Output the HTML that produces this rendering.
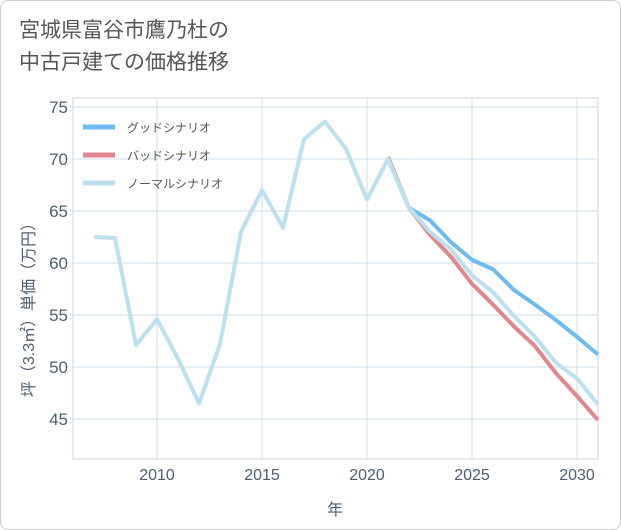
<!DOCTYPE html>
<html><head><meta charset="utf-8"><style>
body{margin:0;background:#fff;}
#wrap{position:relative;width:619px;height:528px;border:1px solid #ccc;border-radius:8px;background:#fff;overflow:hidden;font-family:"Liberation Sans","Noto Sans CJK JP",sans-serif;}
#title{position:absolute;left:18px;top:14px;font-size:21px;line-height:32px;color:#555;}
svg{position:absolute;left:0;top:0;}
</style></head><body>
<div id="wrap">
<div id="title">宮城県富谷市鷹乃杜の<br>中古戸建ての価格推移</div>
<svg id="chart" width="621" height="530"></svg>
</div>
<script>
const years=[2007,2008,2009,2010,2011,2012,2013,2014,2015,2016,2017,2018,2019,2020,2021,2022,2023,2024,2025,2026,2027,2028,2029,2030,2031];
const normalVals=[62.5,62.4,52.1,54.6,50.8,46.5,52.2,63,67,63.4,71.9,73.6,71,66.1,70,65.3,63,61.3,58.8,57.2,54.9,52.9,50.4,48.9,46.4];
const predYears=[2021,2022,2023,2024,2025,2026,2027,2028,2029,2030,2031];
const goodVals=[70,65.3,64.1,62,60.3,59.4,57.4,56,54.5,52.9,51.2];
const badVals=[70.2,65.3,62.7,60.6,58,56,53.9,52,49.4,47.2,44.9];
const xTicks=[2010,2015,2020,2025,2030];
const yTicks=[45,50,55,60,65,70,75];
const legendLabels=["グッドシナリオ","バッドシナリオ","ノーマルシナリオ"];
const legendColors=["#6cbcf0","#e0868f","#bde0ee"];

const NS="http://www.w3.org/2000/svg";
const svg=document.getElementById('chart');
const L=72,R=597,T=97,B=458;
const xs=y=>L+(y-2006)*21;
const ys=v=>106+(75-v)*10.4;
function mk(tag,attrs){const e=document.createElementNS(NS,tag);for(const k in attrs)e.setAttribute(k,attrs[k]);svg.appendChild(e);return e;}
let bg=mk('rect',{x:L,y:T,width:R-L,height:B-T,fill:'#fff'});


xTicks.forEach(t=>{
 let g=mk('line',{x1:xs(t),x2:xs(t),y1:T,y2:B,stroke:'#cfdce8','stroke-width':1});
 
 
 let tx=mk('text',{x:xs(t),y:479,'text-anchor':'middle','font-size':16,fill:'#4d5d6e'});
 tx.textContent=t;
 
 
});
yTicks.forEach(t=>{
 let g=mk('line',{x1:L,x2:R,y1:ys(t),y2:ys(t),stroke:'#cfdce8','stroke-width':1});
 
 
 let tx=mk('text',{x:67,y:ys(t)+6,'text-anchor':'end','font-size':17,fill:'#4d5d6e'});
 tx.textContent=t;
 
 
});
let ax=mk('rect',{x:L,y:T,width:R-L,height:B-T,fill:'none',stroke:'#c9d4de'});


function line(xv,yv,color,name){
 const d=xv.map((x,i)=>(i?'L':'M')+xs(x)+','+ys(yv[i])).join(' ');
 let p=mk('path',{d:d,fill:'none',stroke:color,'stroke-width':4,'stroke-linejoin':'round'});
 
 
}
line(predYears,badVals,legendColors[1],'bad-scenario-line');
line(predYears,goodVals,legendColors[0],'good-scenario-line');
line(years,normalVals,legendColors[2],'normal-scenario-line');
legendLabels.forEach((lab,i)=>{
 const y=126+i*28;
 let l=mk('line',{x1:82,x2:114,y1:y,y2:y,stroke:legendColors[i],'stroke-width':5});
 
 
 let t=mk('text',{x:126,y:y+5,'font-size':12,fill:'#555'});
 t.textContent=lab;
 
 
});
let xt=mk('text',{x:334,y:514,'text-anchor':'middle','font-size':16,fill:'#4d5d6e'});
xt.textContent='年';


let yt=mk('text',{x:0,y:0,'text-anchor':'middle','font-size':16,fill:'#4d5d6e',transform:'translate(33,305) rotate(-90)'});
yt.textContent='坪（3.3㎡）単価（万円）';


</script>
</body></html>
